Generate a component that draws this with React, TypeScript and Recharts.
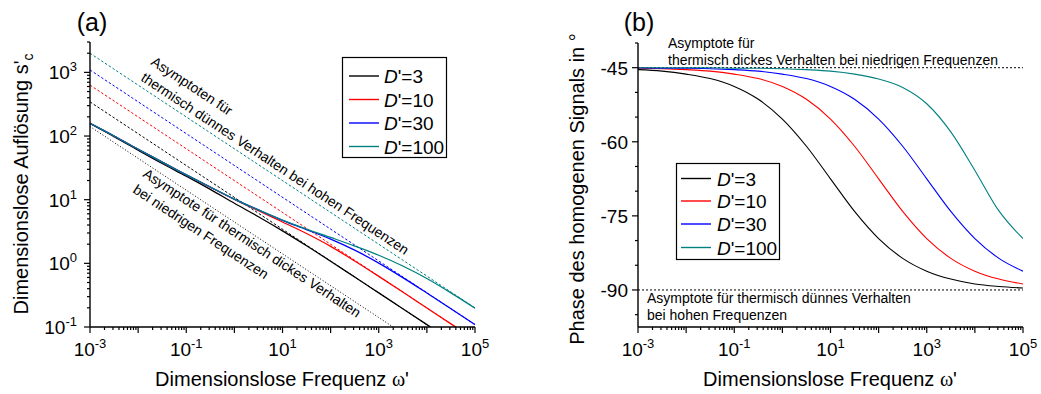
import { LineChart, Line, XAxis, YAxis, ReferenceLine } from "recharts"

// dimensionless frequency, half-decade steps
const omega = [0.001, 0.003162, 0.01, 0.03162, 0.1, 0.3162, 1, 3.162, 10, 31.62, 100, 316.2, 1000, 3162, 10000, 31620, 100000]

const dLabels = ["3", "10", "30", "100"]
const dColors = ["#000000", "#ff0000", "#0000ff", "#008080"]

// dimensionless resolution s'_c
const resD3 = [157, 98, 60, 37, 23.4, 14.5, 8.8, 5.4, 3.24, 1.89, 1.08, 0.61, 0.344, 0.194, 0.109, 0.061, 0.034]
const resD10 = [158, 100, 62, 39, 24.5, 15.7, 10.1, 6.7, 4.46, 2.94, 1.85, 1.09, 0.625, 0.354, 0.199, 0.112, 0.063]
const resD30 = [158, 100, 62, 39, 24.5, 15.8, 10.2, 6.9, 4.74, 3.39, 2.4, 1.61, 1.01, 0.597, 0.342, 0.194, 0.109]
const resD100 = [158, 100, 62, 39, 24.5, 15.8, 10.2, 6.9, 4.79, 3.46, 2.55, 1.87, 1.34, 0.908, 0.577, 0.343, 0.197]

// phase of the homogeneous signal in degrees
const phaseD3 = [-45.4, -45.7, -46.3, -47.2, -48.8, -51.4, -55.4, -60.9, -67.5, -74.1, -79.6, -83.6, -86.2, -87.8, -88.8, -89.3, -89.6]
const phaseD10 = [-45.1, -45.2, -45.4, -45.7, -46.3, -47.2, -48.8, -51.4, -55.4, -60.9, -67.5, -74.1, -79.6, -83.6, -86.2, -87.8, -88.8]
const phaseD30 = [-45.0, -45.1, -45.1, -45.2, -45.4, -45.7, -46.3, -47.2, -48.8, -51.4, -55.4, -60.9, -67.5, -74.1, -79.6, -83.6, -86.2]
const phaseD100 = [-45.0, -45.0, -45.0, -45.0, -45.1, -45.1, -45.2, -45.4, -45.7, -46.3, -47.3, -49.0, -52.3, -58.0, -65.8, -74.0, -79.6]

// straight asymptotes, given at both ends of the frequency range
const asymOmega = [0.001, 100000]
const thinAsymStart = [344, 631, 1091, 1995]
const thinAsymEnd = [0.0344, 0.063, 0.109, 0.1995]
const thickAsym = [141, 0.0141]
const phaseThick = -45
const phaseThin = -90

const xLabelExps = [-3, -1, 1, 3, 5]
const yLabelExps = [-1, 0, 1, 2, 3]
const phaseTicks = [-95, -90, -85, -80, -75, -70, -65, -60, -55, -50, -45, -40]
const phaseLabels = [-45, -60, -75, -90]

const keys = ["d3", "d10", "d30", "d100"]

const resRows = omega.map((w, i) => ({ w, d3: resD3[i], d10: resD10[i], d30: resD30[i], d100: resD100[i] }))
const phaseRows = omega.map((w, i) => ({ w, d3: phaseD3[i], d10: phaseD10[i], d30: phaseD30[i], d100: phaseD100[i] }))
const thinRows = thinAsymStart.map((s0, i) => [
  { w: asymOmega[0], s: s0 },
  { w: asymOmega[1], s: thinAsymEnd[i] },
])
const thickRows = asymOmega.map((w, i) => ({ w, s: thickAsym[i] }))

const xTicks: number[] = []
for (let k = -3; k < 5; k++) for (let m = 1; m < 10; m++) xTicks.push(m * 10 ** k)
xTicks.push(1e5)

const yTicks: number[] = []
for (let k = -1; k < 4; k++) for (let m = 1; m < 10; m++) if (m * 10 ** k <= 3000) yTicks.push(m * 10 ** k)

const decadeOf = (v: number) => {
  const e = Math.log10(v)
  return Math.abs(e - Math.round(e)) < 1e-6 ? Math.round(e) : null
}

const TICK_FONT = 19
const EXP_FONT = 13

function LogXTick(props: any) {
  const { x, y, payload } = props
  const e = decadeOf(payload.value)
  const labelled = e !== null && xLabelExps.includes(e)
  return (
    <g>
      <line x1={x} x2={x} y1={y} y2={y + (e !== null ? 6 : 3)} stroke="#000" strokeWidth={1.2} />
      {labelled && (
        <text x={x} y={y + 29} textAnchor="middle" fontSize={TICK_FONT} fill="#000">
          10<tspan dy={-8} fontSize={EXP_FONT}>{String(e)}</tspan>
        </text>
      )}
    </g>
  )
}

function LogYTick(props: any) {
  const { x, y, payload } = props
  const e = decadeOf(payload.value)
  const labelled = e !== null && yLabelExps.includes(e)
  return (
    <g>
      <line x1={x} x2={x - (e !== null ? 6 : 3)} y1={y} y2={y} stroke="#000" strokeWidth={1.2} />
      {labelled && (
        <text x={x - 13} y={y + 7} textAnchor="end" fontSize={TICK_FONT} fill="#000">
          10<tspan dy={-8} fontSize={EXP_FONT}>{String(e)}</tspan>
        </text>
      )}
    </g>
  )
}

function PhaseTick(props: any) {
  const { x, y, payload } = props
  const labelled = phaseLabels.includes(payload.value)
  return (
    <g>
      <line x1={x} x2={x - (labelled ? 6 : 3)} y1={y} y2={y} stroke="#000" strokeWidth={1.2} />
      {labelled && (
        <text x={x - 10} y={y + 7} textAnchor="end" fontSize={TICK_FONT} fill="#000">
          {payload.value}
        </text>
      )}
    </g>
  )
}

function LegendBox({ x, y, w, h, lineX, textX, rowY }: any) {
  return (
    <g>
      <rect x={x} y={y} width={w} height={h} fill="#fff" stroke="#000" strokeWidth={1.2} />
      {dLabels.map((d, i) => (
        <g key={d}>
          <line x1={lineX} x2={lineX + 30} y1={rowY[i]} y2={rowY[i]} stroke={dColors[i]} strokeWidth={1.4} />
          <text x={textX} y={rowY[i] + 7} fontSize={19} fill="#000">
            <tspan fontStyle="italic">D</tspan>'={d}
          </text>
        </g>
      ))}
    </g>
  )
}

const axisLine = { stroke: "#000", strokeWidth: 1.4 }
const SLOPE_DEG = 33.5

export default function App() {
  return (
    <div
      style={{
        position: "absolute",
        left: 0,
        top: 0,
        width: 1041,
        height: 394,
        background: "#fff",
        fontFamily: '"Liberation Sans", Arial, sans-serif',
      }}
    >
      <div style={{ position: "absolute", left: 0, top: 0 }}>
        <LineChart width={520} height={394} data={resRows} margin={{ top: 42, right: 45, bottom: 27, left: 0 }}>
          <XAxis
            dataKey="w"
            type="number"
            scale="log"
            domain={[0.001, 100000]}
            ticks={xTicks}
            interval={0}
            allowDataOverflow
            axisLine={axisLine}
            tickLine={false}
            tickSize={0}
            tickMargin={0}
            height={40}
            tick={<LogXTick />}
          />
          <YAxis
            type="number"
            scale="log"
            domain={[0.1, 3000]}
            ticks={yTicks}
            interval={0}
            allowDataOverflow
            axisLine={axisLine}
            tickLine={false}
            tickSize={0}
            tickMargin={0}
            width={90}
            tick={<LogYTick />}
          />
          <Line
            data={thickRows}
            dataKey="s"
            stroke="#000"
            strokeWidth={1}
            strokeDasharray="1 2"
            dot={false}
            isAnimationActive={false}
          />
          {thinRows.map((rows, i) => (
            <Line
              key={"thin" + i}
              data={rows}
              dataKey="s"
              stroke={dColors[i]}
              strokeWidth={1}
              strokeDasharray="2.5 2"
              dot={false}
              isAnimationActive={false}
            />
          ))}
          {keys.map((k, i) => (
            <Line
              key={k}
              dataKey={k}
              type="monotone"
              stroke={dColors[i]}
              strokeWidth={1.3}
              dot={false}
              isAnimationActive={false}
            />
          ))}
        </LineChart>
      </div>

      <div style={{ position: "absolute", left: 520, top: 0 }}>
        <LineChart width={521} height={394} data={phaseRows} margin={{ top: 43, right: 18, bottom: 27, left: 0 }}>
          <XAxis
            dataKey="w"
            type="number"
            scale="log"
            domain={[0.001, 100000]}
            ticks={xTicks}
            interval={0}
            allowDataOverflow
            axisLine={axisLine}
            tickLine={false}
            tickSize={0}
            tickMargin={0}
            height={40}
            tick={<LogXTick />}
          />
          <YAxis
            type="number"
            domain={[-97.5, -40]}
            ticks={phaseTicks}
            interval={0}
            allowDataOverflow
            axisLine={axisLine}
            tickLine={false}
            tickSize={0}
            tickMargin={0}
            width={118}
            tick={<PhaseTick />}
          />
          <ReferenceLine y={phaseThick} stroke="#000" strokeWidth={1} strokeDasharray="2 2" />
          <ReferenceLine y={phaseThin} stroke="#000" strokeWidth={1} strokeDasharray="2 2" />
          {keys.map((k, i) => (
            <Line
              key={k}
              dataKey={k}
              type="monotone"
              stroke={dColors[i]}
              strokeWidth={1.1}
              dot={false}
              isAnimationActive={false}
            />
          ))}
        </LineChart>
      </div>

      <svg width={1041} height={394} style={{ position: "absolute", left: 0, top: 0, pointerEvents: "none" }}>
        {/* panel letters */}
        <text x={92} y={31} textAnchor="middle" fontSize={25} fill="#000">(a)</text>
        <text x={639} y={31} textAnchor="middle" fontSize={25} fill="#000">(b)</text>

        {/* axis titles */}
        <text x={282} y={386} textAnchor="middle" fontSize={20} fill="#000">
          Dimensionslose Frequenz <tspan fontFamily='"Liberation Serif", serif'>ω</tspan>'
        </text>
        <text x={830} y={386} textAnchor="middle" fontSize={20} fill="#000">
          Dimensionslose Frequenz <tspan fontFamily='"Liberation Serif", serif'>ω</tspan>'
        </text>
        <text transform="translate(28,184) rotate(-90)" textAnchor="middle" fontSize={20} fill="#000">
          Dimensionslose Auflösung s'<tspan dy={5} fontSize={14}>c</tspan>
        </text>
        <text transform="translate(584,189) rotate(-90)" textAnchor="middle" fontSize={20} fill="#000">
          Phase des homogenen Signals in °
        </text>

        {/* annotations, left panel */}
        <g fontSize={14} fill="#000">
          <text transform={`translate(150,64) rotate(${SLOPE_DEG})`}>Asymptoten für</text>
          <text transform={`translate(140,80) rotate(${SLOPE_DEG})`}>thermisch dünnes Verhalten bei hohen Frequenzen</text>
          <text transform={`translate(142,176) rotate(${SLOPE_DEG})`}>Asymptote für thermisch dickes Verhalten</text>
          <text transform={`translate(132,192) rotate(${SLOPE_DEG})`}>bei niedrigen Frequenzen</text>
        </g>

        {/* annotations, right panel */}
        <g fontSize={14} fill="#000">
          <text x={668} y={48}>Asymptote für</text>
          <text x={668} y={65}>thermisch dickes Verhalten bei niedrigen Frequenzen</text>
          <text x={647} y={303}>Asymptote für thermisch dünnes Verhalten</text>
          <text x={647} y={320}>bei hohen Frequenzen</text>
        </g>

        <LegendBox x={342.5} y={57.5} w={104} h={100} lineX={349} textX={384} rowY={[76, 99.5, 123, 146.5]} />
        <LegendBox x={676.5} y={163.5} w={103} h={96} lineX={681} textX={717} rowY={[178.5, 201, 224, 247.5]} />
      </svg>
    </div>
  )
}
